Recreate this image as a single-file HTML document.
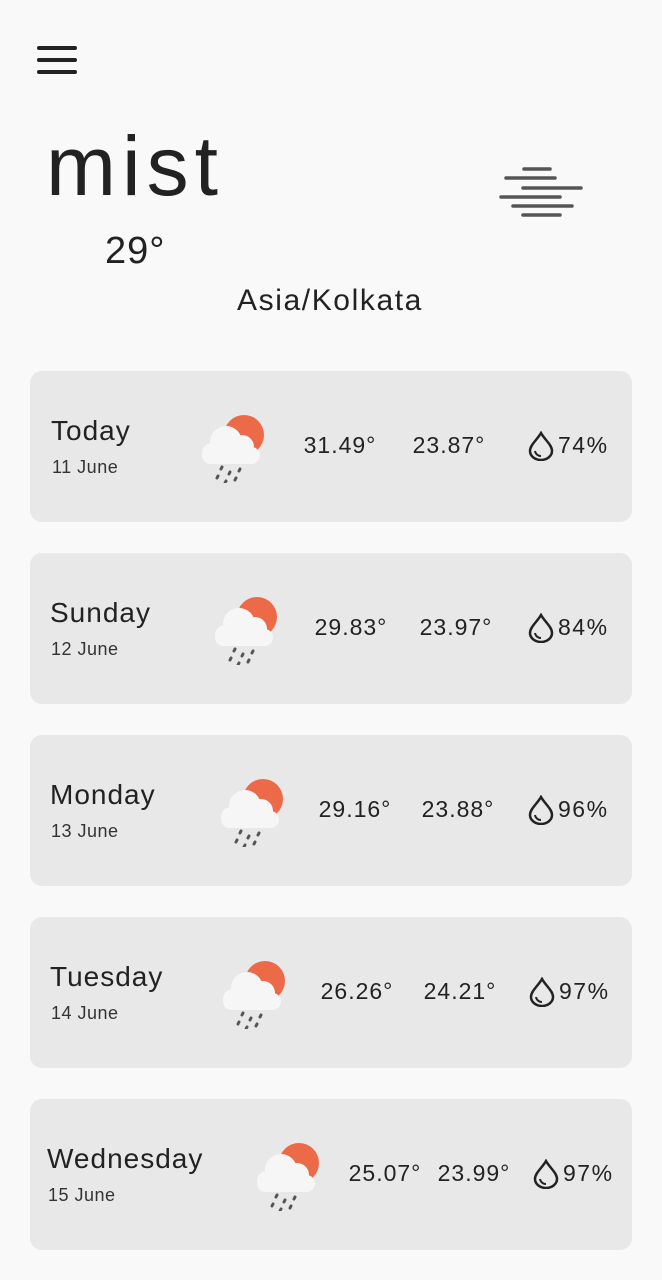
<!DOCTYPE html>
<html><head><meta charset="utf-8"><style>
body{margin:0;width:662px;height:1280px;background:#f9f9f9;font-family:"Liberation Sans",sans-serif;color:#222;position:relative;overflow:hidden}
.a{position:absolute;white-space:nowrap}
.card{position:absolute;left:30px;width:602px;height:151px;background:#e8e8e8;border-radius:12px}
.day{font-size:28px;color:#222;letter-spacing:1px}
.date{font-size:18px;color:#333;letter-spacing:0.5px}
.t{font-size:23px;color:#222;transform:translateX(-50%);letter-spacing:1px}
</style></head><body>
<div class="a" style="left:37px;top:46px;width:40px;height:30px">
<div style="position:absolute;top:0;width:40px;height:4px;background:#222;border-radius:2px"></div>
<div style="position:absolute;top:12px;width:40px;height:4px;background:#222;border-radius:2px"></div>
<div style="position:absolute;top:24px;width:40px;height:4px;background:#222;border-radius:2px"></div>
</div>
<div class="a" style="left:46px;top:118px;font-size:84px;color:#222;letter-spacing:6px">mist</div>
<div class="a" style="left:105px;top:230px;font-size:38px;color:#222;letter-spacing:1px">29°</div>
<div class="a" style="left:237px;top:284px;font-size:30px;color:#222;letter-spacing:1.6px">Asia/Kolkata</div>
<svg class="a" style="left:0;top:0" width="662" height="260">
<g stroke="#555" stroke-width="3.5" stroke-linecap="round">
<line x1="524" y1="169" x2="550" y2="169"/><line x1="506" y1="178" x2="555" y2="178"/>
<line x1="523" y1="188" x2="581" y2="188"/><line x1="501" y1="197" x2="560" y2="197"/>
<line x1="513" y1="206" x2="572" y2="206"/><line x1="523" y1="215" x2="560" y2="215"/></g></svg>
<div id="cards"></div>
<script>
const days=["Today","Sunday","Monday","Tuesday","Wednesday"];
const dates=["11 June","12 June","13 June","14 June","15 June"];
const highs=["31.49°","29.83°","29.16°","26.26°","25.07°"];
const lows=["23.87°","23.97°","23.88°","24.21°","23.99°"];
const humid=["74%","84%","96%","97%","97%"];
const L=[{d:51,i:200,h:340,l:449,w:528},{d:50,i:213,h:351,l:456,w:528},{d:50,i:219,h:355,l:458,w:528},{d:50,i:221,h:357,l:460,w:529},{d:47,i:255,h:385,l:474,w:533}];
const c=document.getElementById('cards');
days.forEach((d,k)=>{
const top=371+k*182,p=L[k];
const card=document.createElement('div');card.className='card';card.style.top=top+'px';


const x=p.i-30;
card.innerHTML=`<div class="a day" style="left:${p.d-30}px;top:44px">${d}</div>
<div class="a date" style="left:${p.d-29}px;top:86px">${dates[k]}</div>
<svg class="a" style="left:${x}px;top:40px" width="70" height="72">
<circle cx="44" cy="24" r="20" fill="#ec6a48"/>
<g fill="#f6f6f6"><circle cx="26" cy="31" r="16"/><circle cx="42" cy="36" r="12"/><circle cx="12" cy="42" r="10"/><rect x="2" y="36" width="58" height="17" rx="8.5"/></g>
<g stroke="#555" stroke-width="3" stroke-linecap="round"><line x1="22" y1="56" x2="21" y2="58"/><line x1="40" y1="58" x2="39" y2="60"/><line x1="30" y1="61" x2="29" y2="63"/><line x1="18" y1="65" x2="17" y2="67"/><line x1="36" y1="67" x2="35" y2="69"/><line x1="26" y1="70" x2="25" y2="72"/></g></svg>
<div class="a t" style="left:${p.h-30}px;top:61px">${highs[k]}</div>
<div class="a t" style="left:${p.l-30}px;top:61px">${lows[k]}</div>
<svg class="a" style="left:${p.w-30}px;top:60px" width="26" height="30">
<path d="M13 2 C9 9 2 14 2 20 a11 9 0 0 0 22 0 C24 14 17 9 13 2Z" fill="none" stroke="#222" stroke-width="2.5"/>
<path d="M7 20 a6 6 0 0 0 6 5" fill="none" stroke="#222" stroke-width="2"/></svg>
<div class="a" style="left:${p.w-30+30}px;top:61px;font-size:23px;letter-spacing:1.5px">${humid[k]}</div>`;
c.appendChild(card);
});
</script>
</body></html>
